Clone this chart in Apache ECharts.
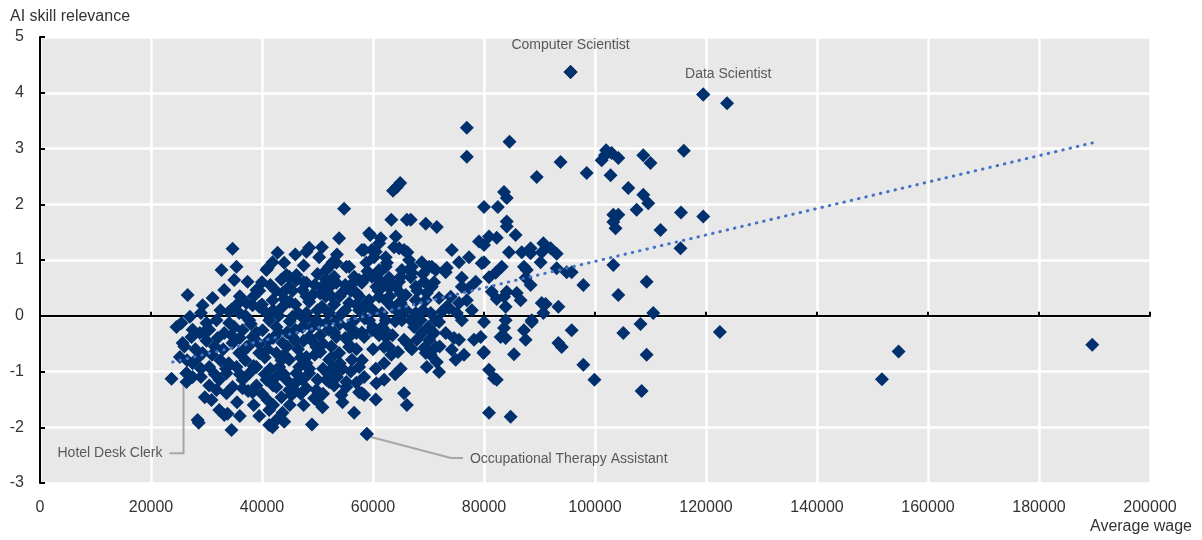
<!DOCTYPE html>
<html>
<head>
<meta charset="utf-8">
<script src="https://cdn.jsdelivr.net/npm/echarts@6/dist/echarts.min.js"></script>
<style>
  html, body { margin: 0; padding: 0; background: #fff; }
  #chart { width: 1202px; height: 540px; }
</style>
</head>
<body>
<div id="chart"></div>
<script>
// average wage / AI skill relevance
var wage = [
  95600,119500,123800,116000,119500,115500,115400,122500,151700,154700,189600,
  101200,103000,104200,102800,106000,108700,110000,108700,109600,107500,103300,104200,103300,103700,111800,
  103300,109300,104200,110500,108200,105100,109300,108400,102000,101800,
  76900,76900,84600,89500,93800,98500,63600,64900,64300,63300,66100,66800,69500,71500,59500,61400,64100,
  58400,65600,66200,63800,60200,68800,62300,54800,80000,82500,83600,84100,84100,84100,85700,79100,80900,
  80000,74200,75500,77300,79600,76000,73100,70600,78500,82100,83200,84500,86800,88400,90700,90400,93100,
  90200,87200,87500,88400,93100,94900,95800,97900,83600,80900,81400,84100,85900,86600,83900,76900,76000,
  74000,71900,70600,69200,69700,67700,66800,65000,67700,73700,75100,91100,93400,90700,88600,87200,87500,
  83600,83000,83900,80000,79400,78200,80000,80900,81800,85400,80900,84800,95800,94000,93400,97900,99900,
  76400,74900,74200,75500,73100,71000,70100,71300,70400,69500,71500,71900,69700,69200,74600,76000,71900,
  68800,67400,68600,67900,66100,65600,66800,65600,66100,58400,56600,58900,58400,60600,57500,63300,62000,
  61100,62300,58400,59800,57000,61600,66800,67700,70400,72400,64700,63400,62300,61600,64100,60600,62900,
  61100,58900,57500,57000,59300,65200,67000,70100,71300,65000,
  53900,48500,50800,50300,34700,42800,32700,35400,37400,35000,40800,41900,26600,29300,31100,33200,34100,
  39000,39500,44900,46200,44900,43700,47300,49100,50800,53000,53400,55700,56600,53400,52100,59300,61100,
  59800,62300,58000,61100,54400,55700,24600,25500,27000,27300,25700,28800,30000,31800,34100,33200,25200,
  23700,26400,27500,29300,30500,29700,28400,32300,33200,34500,30900,32300,31800,33600,34700,33600,35400,
  36500,37700,35900,37200,34700,38300,40100,41300,39500,39000,40800,41000,41300,42600,41900,43700,43500,
  44900,42600,44400,46200,43100,44900,42600,43700,45500,47300,48500,49800,48000,46700,47300,48500,49800,
  50900,49800,51600,53400,52100,53900,55700,56200,55200,58000,55700,53400,51600,53400,49800,48000,45500,
  42600,41300,37700,36500,35900,37200,41900,40800,43700,50800,52100,58800,61600,62900,
  52700,55200,51600,44400,46200,48000,38300,34500,64700,80000,82300,88400,92000,87700,90400,73300,77300,
  82300,67000,64700,62900,65900,69500,73300,75500,77800,64700,58800,61100,59800,61100,58800,58000,83900,
  88600,71300,67700,65200,62300,59300,28600,33800,41300,45300,49400,54300,46200,48000,52100,55200,38300,
  27500,26400,52700,79900,82300,57500,
  38000,39500,40500,41500,42000,43000,44000,44500,45000,46000,46500,47000,47500,48000,48500,49000,49500,
  50000,50500,51000,51500,52000,52500,53000,54000,54500,55000,56000,56500,57000,57500,58000,45500,47500,
  50000,46000,44000,39000,37000,36000,38500,40000,42500,43500,46000,48000,50500,52000,54000,56000,58500,
  60000,60500,62000,63500,64500,65000,63000,60000,30000,31000,32000,33000,34000,35000,36500,31500,29000,
  28000,26500,35500,37500,39500,40000,42000,44000,45000,47500,51000,53000,56000,60500,62000,64000,36000,
  48000,55000,52500,57500,54500,49000,36000,30500,29000,
  39000,40000,41000,42000,43000,44000,45000,46000,47000,48000,49000,50000,51000,52000,53000,54000,55000,
  56000,57000,58000,40500,42500,44500,46500,48500,50500,52500,54500,56500,38500,37000,36000,39500,41500,
  43500,47500,49500,51500,53500,45500,60000,61000,62000,63000,64000,65000,66000,67000,68000,69000,70000,
  71000,72000,62500,66500,69000,59000,60500,27500,28500,29500,30500,31500,32500,33500,34500,35500,36500,
  37500,26000,29000,32500,38500,42000,47000,50000,53500,57000,44000,46000,41000
];
var aiRelevance = [
  4.37,3.97,3.81,2.96,1.78,1.85,1.21,-0.29,-1.14,-0.64,-0.52,
  2.79,2.92,2.83,2.52,2.29,2.88,2.74,2.17,2.02,1.90,1.81,1.81,1.68,1.57,1.54,
  0.91,0.61,0.37,0.05,-0.15,-0.31,-0.70,-1.35,2.97,2.88,
  3.37,2.85,3.12,2.49,2.76,2.56,2.24,2.38,2.31,1.72,1.72,1.72,1.65,1.59,1.45,1.39,1.42,
  1.18,1.18,1.14,1.23,1.05,0.96,0.88,1.92,1.95,1.95,2.22,2.11,1.69,1.60,1.45,1.33,1.42,
  1.27,1.18,0.96,1.05,0.94,0.68,0.78,0.88,0.61,0.77,0.88,1.14,1.14,1.12,1.30,1.14,1.11,
  0.96,0.88,0.68,0.55,0.85,0.78,0.78,0.55,0.34,0.69,0.43,0.43,0.41,0.28,0.16,0.28,0.52,
  0.34,0.32,0.52,0.61,0.41,0.52,0.69,0.23,0.28,0.14,0.05,0.21,0.16,0.05,-0.11,-0.26,-0.43,
  -0.22,-0.38,-0.40,-0.11,-0.38,-0.43,-0.65,-0.97,-1.12,-0.69,-1.74,-1.81,-0.26,-0.56,-0.49,-0.88,-1.15,
  -0.70,-0.79,-0.61,-0.43,-0.31,-0.31,-0.43,-0.56,-0.70,-0.67,-0.83,-1.01,-0.92,-0.58,-0.40,-0.08,-0.11,
  -0.31,-0.20,-0.08,-0.43,-0.49,-0.43,-0.58,-1.39,-1.60,-1.42,-1.74,-2.12,-1.10,-1.21,-0.92,-0.70,-0.56,
  -0.35,-0.38,-0.38,-0.26,-0.31,-0.20,-0.08,0.05,0.05,0.07,0.05,0.16,0.28,0.52,0.52,0.52,0.68,
  0.77,0.70,0.64,0.41,0.28,0.82,0.88,0.88,0.82,0.70,
  1.39,1.22,1.23,1.05,1.20,1.13,0.82,0.88,0.61,0.64,0.82,0.96,0.37,0.19,0.32,0.46,0.07,
  0.46,0.16,0.52,0.64,0.70,0.41,0.46,0.37,0.52,0.70,0.59,0.88,0.70,0.95,0.88,1.48,1.30,
  1.18,1.05,1.18,0.64,0.41,0.23,-0.20,-0.13,-0.02,-0.38,-0.49,-0.31,-0.13,-0.08,-0.13,-0.31,-0.74,
  -1.13,-1.03,-0.85,-0.67,-0.92,-1.46,-1.87,-1.69,-1.78,-2.05,-1.51,-1.15,-1.33,-1.39,-1.28,-1.03,-0.92,
  -1.15,-1.03,-0.67,-0.56,-0.49,-0.38,-0.26,-0.43,-0.67,-0.92,-1.15,-1.51,-1.69,-1.87,-2.00,-1.74,-1.46,
  -1.33,-1.28,-1.15,-1.03,-0.92,-0.79,-0.67,-0.49,-0.38,-0.20,-0.38,-0.56,-0.74,-0.92,-1.15,-1.03,-1.33,
  -1.64,-1.51,-1.15,-0.97,-0.79,-0.67,-0.56,-0.79,-1.28,-1.39,-0.20,-0.38,-0.13,-0.08,-0.08,0.05,-0.02,
  -0.20,-0.08,-0.08,-0.26,0.05,0.23,0.28,0.05,0.16,0.16,0.05,0.16,0.05,-0.56,
  0.96,0.88,0.82,0.73,0.73,0.59,0.19,0.11,1.21,0.96,1.40,1.21,1.21,0.82,0.23,0.86,0.50,
  0.30,0.77,0.61,0.50,0.37,0.28,0.16,0.23,0.10,0.23,0.23,0.34,0.70,0.82,0.95,0.59,-0.08,
  -0.08,-0.08,-0.02,-0.08,-0.08,-0.08,-1.92,-1.76,-1.96,-1.42,-1.48,-1.42,-1.19,-1.30,-1.19,-1.19,-1.37,
  -1.10,-1.19,-0.94,-0.67,-1.15,-1.37,
  -0.15,-0.50,-0.75,-0.95,0.10,-0.30,0.30,-0.55,-0.10,0.20,-0.60,0.00,-0.45,-0.85,0.25,-0.20,-0.70,
  0.10,-0.35,-0.95,0.35,-0.25,-0.55,0.20,-0.15,0.05,-0.40,0.45,-0.10,-0.60,0.10,-0.80,0.45,0.60,
  0.75,-1.35,-1.05,-1.25,-0.80,-0.40,0.35,0.60,0.45,-0.80,-0.25,-0.05,-0.65,-1.05,-0.85,-0.35,-0.05,
  -0.60,-0.95,-0.85,-0.35,-0.65,-0.95,0.35,0.10,-0.45,-0.70,-0.40,-0.60,-0.85,-0.20,-0.65,-1.05,-1.10,
  -0.60,-0.80,-1.55,-1.35,-1.80,-1.40,-1.60,-1.90,-1.60,-1.60,-1.40,-1.25,-1.00,-1.50,-1.15,-1.05,0.35,
  1.15,0.55,0.35,0.35,-1.55,-1.95,-1.80,-0.25,0.05,
  -0.30,0.20,-0.60,-0.40,0.00,-0.70,0.25,-0.45,-0.75,0.35,-0.45,-0.15,-0.50,0.50,-0.30,0.35,0.10,
  -0.55,0.20,-0.30,-1.05,-1.10,-0.30,0.05,-0.95,0.40,-0.75,-0.95,0.60,-0.90,0.00,-1.05,0.45,0.55,
  0.65,0.90,0.55,0.65,1.10,-1.25,-0.20,0.45,-0.25,0.60,-0.10,0.40,0.10,-0.60,0.45,0.10,-0.20,
  0.60,-0.55,0.95,1.00,0.75,0.80,1.15,-0.25,-0.75,-0.30,-1.25,-0.55,0.10,-0.95,-0.35,0.20,-1.30,
  -0.55,-0.55,-0.95,-0.80,-1.60,-1.25,-1.40,-1.15,-1.10,-1.20,0.95,1.10,0.85
];

// linear trend, end points
var trendWage = [23900, 189600];
var trendAI = [-0.83, 3.10];

// annotated occupations
var labelNames = ['Computer Scientist', 'Data Scientist', 'Hotel Desk Clerk', 'Occupational Therapy Assistant'];
var labelWage = [95600, 119500, 26400, 58900];
var labelAI = [4.37, 3.97, -1.03, -2.12];

var xTicks = [0, 20000, 40000, 60000, 80000, 100000, 120000, 140000, 160000, 180000, 200000];
var yTicks = [-3, -2, -1, 0, 1, 2, 3, 4, 5];

var FONT = 'Liberation Sans, Arial, sans-serif';
var chart = echarts.init(document.getElementById('chart'));

var points = wage.map(function (w, i) { return [w, aiRelevance[i]]; });
var trend = trendWage.map(function (w, i) { return [w, trendAI[i]]; });

chart.setOption({
  animation: false,
  grid: {
    left: 40, right: 52, top: 37, bottom: 57,
    show: true, backgroundColor: '#e8e8e8', borderWidth: 0
  },
  xAxis: [
    {
      type: 'value',
      position: 'bottom',
      min: xTicks[0], max: xTicks[xTicks.length - 1], interval: 20000,
      axisLine: { show: false, onZero: false },
      axisTick: { show: false },
      axisLabel: { color: '#333', fontFamily: FONT, fontSize: 16, margin: 17, formatter: function (v) { return String(v); } },
      splitLine: { show: true, lineStyle: { color: '#ffffff', width: 2.5 } }
    },
    {
      // the black line at y = 0
      type: 'value',
      position: 'top',
      min: xTicks[0], max: xTicks[xTicks.length - 1], interval: 20000,
      axisLine: { show: true, onZero: true, lineStyle: { color: '#000', width: 2 } },
      axisTick: { show: true, inside: false, length: 4, lineStyle: { color: '#000', width: 2 } },
      axisLabel: { show: false },
      splitLine: { show: false }
    }
  ],
  yAxis: {
    type: 'value',
    min: yTicks[0], max: yTicks[yTicks.length - 1], interval: 1,
    axisLine: { show: true, onZero: false, lineStyle: { color: '#000', width: 2 } },
    axisTick: { show: true, inside: true, length: 5, lineStyle: { color: '#000', width: 2 } },
    axisLabel: { color: '#333', fontFamily: FONT, fontSize: 16, margin: 16 },
    splitLine: { show: true, lineStyle: { color: '#ffffff', width: 2.5 } }
  },
  series: [
    {
      type: 'scatter',
      xAxisIndex: 0,
      symbol: 'diamond',
      symbolSize: 14,
      itemStyle: { color: '#00306e', opacity: 1 },
      data: points.concat(labelWage.map(function (w, i) { return [w, labelAI[i]]; })),
      z: 3
    },
    {
      type: 'line',
      xAxisIndex: 0,
      showSymbol: false,
      data: trend,
      lineStyle: { color: '#4472c4', width: 3, type: [0.5, 7], cap: 'round' },
      z: 4
    }
  ]
});

// axis titles and occupation labels
var lbl = { fill: '#595959', font: '14px ' + FONT };
var gfx = [
  { type: 'text', left: 10, top: 9, style: { text: 'AI skill relevance', fill: '#333', font: '16px ' + FONT } },
  { type: 'text', right: 10, top: 519, style: { text: 'Average wage', fill: '#333', font: '16px ' + FONT } }
];
var p = labelWage.map(function (w, i) { return chart.convertToPixel({ gridIndex: 0 }, [w, labelAI[i]]); });

gfx.push({ type: 'text', x: p[0][0], y: p[0][1] - 27, style: Object.assign({ text: labelNames[0], align: 'center', verticalAlign: 'middle' }, lbl) });
gfx.push({ type: 'text', x: p[1][0] + 25, y: p[1][1] - 20, style: Object.assign({ text: labelNames[1], align: 'center', verticalAlign: 'middle' }, lbl) });

gfx.push({ type: 'polyline', z: 1, shape: { points: [[p[2][0] - 3, p[2][1] + 6], [p[2][0] - 3, p[2][1] + 80], [p[2][0] - 17, p[2][1] + 80]] },
  style: { stroke: '#a6a6a6', lineWidth: 2, fill: null } });
gfx.push({ type: 'text', x: p[2][0] - 24, y: p[2][1] + 80, style: Object.assign({ text: labelNames[2], align: 'right', verticalAlign: 'middle' }, lbl) });

gfx.push({ type: 'polyline', z: 1, shape: { points: [[p[3][0] + 4, p[3][1] + 3], [p[3][0] + 84, p[3][1] + 24], [p[3][0] + 96, p[3][1] + 24]] },
  style: { stroke: '#a6a6a6', lineWidth: 2, fill: null } });
gfx.push({ type: 'text', x: p[3][0] + 103, y: p[3][1] + 25, style: Object.assign({ text: labelNames[3], align: 'left', verticalAlign: 'middle' }, lbl) });

chart.setOption({ graphic: gfx });
</script>
</body>
</html>
